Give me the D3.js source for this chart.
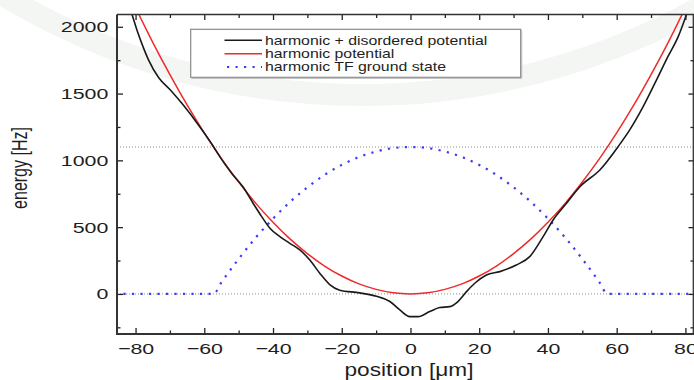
<!DOCTYPE html>
<html><head><meta charset="utf-8">
<script src="https://cdn.jsdelivr.net/npm/d3@7"></script>
<style>body{margin:0;background:#fff} svg{display:block}</style>
</head><body><svg id="c" width="694" height="380"></svg>
<script>
// ---- data ----
const xMajor = [-80, -60, -40, -20, 0, 20, 40, 60, 80];
const xMinor = [-70, -50, -30, -10, 10, 30, 50, 70];
const yMajor = [0, 500, 1000, 1500, 2000];
const yMinor = [-250, 250, 750, 1250, 1750];
const refLevels = [0, 1100];
const seriesNames = ["harmonic + disordered potential", "harmonic potential", "harmonic TF ground state"];

const disorderedX = [-81, -79.6, -78.2, -76.2, -73.3, -70, -66, -61.7, -57.3, -55.5, -52, -48.7, -45.8, -43.3, -40.9, -38, -35.1, -32.2, -29.3, -26.4, -23.5, -20.6, -14.8, -9.9, -6, -3.1, -0.2, 2.2, 5.6, 8.5, 11.4, 13.8, 16.3, 18.7, 22.1, 26, 30.8, 34.7, 38.6, 41.5, 45.4, 49.3, 55.1, 60.4, 63.8, 67.7, 71.6, 74.9, 77.9, 80.3, 81];
const disorderedY = [2090, 1976, 1876, 1751, 1620, 1530, 1410, 1265, 1102, 1028, 902, 800, 679, 579, 492, 429, 379, 329, 254, 155, 70, 28, 8, -18, -57, -120, -170, -170, -132, -102, -95, -57, 17, 80, 142, 167, 217, 279, 429, 554, 679, 803, 928, 1102, 1228, 1402, 1602, 1776, 1926, 2090, 2140];

const harmonicX = [-85, -80, -75, -70, -65, -60, -55, -50, -45, -40, -35, -30, -25, -20, -15, -10, -5, 0, 5, 10, 15, 20, 25, 30, 35, 40, 45, 50, 55, 60, 65, 70, 75, 80, 85];
const harmonicY = [2420, 2144, 1884, 1642, 1415, 1206, 1013, 838, 678, 536, 410, 302, 209, 134, 75, 34, 8, 0, 8, 34, 75, 134, 209, 302, 410, 536, 678, 838, 1013, 1206, 1415, 1642, 1884, 2144, 2420];

const tfX = [-86, -70, -60, -57.3, -55, -50, -45, -40, -35, -30, -25, -20, -15, -10, -5, 0, 5, 10, 15, 20, 25, 30, 35, 40, 45, 50, 55, 57.3, 60, 70, 86];
const tfY = [0, 0, 0, 0, 87, 262, 422, 564, 690, 798, 891, 966, 1025, 1066, 1092, 1100, 1092, 1066, 1025, 966, 891, 798, 690, 564, 422, 262, 87, 0, 0, 0, 0];

// ---- layout ----
const svg = d3.select("#c");
const L = 117, R = 694, T = 14.5, B = 334;
const x = d3.scaleLinear().domain([-85.4, 82.5]).range([L, R]);
const y = d3.scaleLinear().domain([-300, 2092]).range([B, T]);
const FONT = "'Liberation Sans', Arial, Helvetica, sans-serif";

// faint watermark ring
svg.append("circle").attr("cx", 362).attr("cy", -600).attr("r", 695)
  .attr("fill", "none").attr("stroke", "#f3f6f3").attr("stroke-width", 22);

svg.append("defs").append("clipPath").attr("id", "clip")
  .append("rect").attr("x", L).attr("y", T).attr("width", R - L).attr("height", B - T);

const plot = svg.append("g").attr("clip-path", "url(#clip)");

// reference dotted levels
plot.selectAll("line.ref").data(refLevels).join("line").attr("class", "ref")
  .attr("x1", L).attr("x2", R).attr("y1", d => y(d)).attr("y2", d => y(d))
  .attr("stroke", "#8f8f8f").attr("stroke-width", 1).attr("stroke-dasharray", "1,2");

const mk = (xs, ys) => xs.map((v, i) => [v, ys[i]]);
const line = d3.line().x(d => x(d[0])).y(d => y(d[1])).curve(d3.curveMonotoneX);

plot.append("path").datum(mk(tfX, tfY)).attr("d", line)
  .attr("fill", "none").attr("stroke", "#3c3cf5").attr("stroke-width", 2.2)
  .attr("stroke-dasharray", "2.2,6.3");
plot.append("path").datum(mk(harmonicX, harmonicY)).attr("d", line)
  .attr("fill", "none").attr("stroke", "#ee2a2a").attr("stroke-width", 1.5);
plot.append("path").datum(mk(disorderedX, disorderedY)).attr("d", line)
  .attr("fill", "none").attr("stroke", "#1a1a1a").attr("stroke-width", 1.6);

// ---- axes ----
function stretch(sel, sx) {
  sel.each(function () {
    const t = d3.select(this);
    const tx = +t.attr("x") || 0, ty = +t.attr("y") || 0;
    t.attr("x", 0).attr("y", 0).attr("transform", `translate(${tx},${ty}) scale(${sx},1)`);
  });
}
function styleAxis(g) {
  g.select(".domain").remove();
  g.selectAll(".tick line").attr("stroke", "#222").attr("stroke-width", 1.3);
  g.selectAll("text").attr("fill", "#1e1e1e").style("font-family", FONT).style("font-size", "15.5px");
}
// bottom
const gb = svg.append("g").attr("transform", `translate(0,${B})`);
gb.append("g").call(d3.axisBottom(x).tickValues(xMinor).tickSize(-3.5).tickFormat("")).call(styleAxis);
const gbm = gb.append("g").call(d3.axisBottom(x).tickValues(xMajor).tickSize(-6).tickPadding(9).tickFormat(d3.format("d")));
styleAxis(gbm); stretch(gbm.selectAll("text"), 1.38);
// top
const gt = svg.append("g").attr("transform", `translate(0,${T})`);
gt.append("g").call(d3.axisTop(x).tickValues(xMinor).tickSize(-3.5).tickFormat("")).call(styleAxis);
gt.append("g").call(d3.axisTop(x).tickValues(xMajor).tickSize(-5.5).tickFormat("")).call(styleAxis);
// left
const gl = svg.append("g").attr("transform", `translate(${L},0)`);
gl.append("g").call(d3.axisLeft(y).tickValues(yMinor).tickSize(-3.5).tickFormat("")).call(styleAxis);
const glm = gl.append("g").call(d3.axisLeft(y).tickValues(yMajor).tickSize(-6).tickPadding(8.7).tickFormat(d3.format("d")));
styleAxis(glm); stretch(glm.selectAll("text"), 1.38);
// right
const gr = svg.append("g").attr("transform", `translate(${R},0)`);
gr.append("g").call(d3.axisRight(y).tickValues(yMinor).tickSize(-3.5).tickFormat("")).call(styleAxis);
gr.append("g").call(d3.axisRight(y).tickValues(yMajor).tickSize(-5.5).tickFormat("")).call(styleAxis);

// frame
svg.append("line").attr("x1", L).attr("x2", R).attr("y1", T).attr("y2", T).attr("stroke", "#333").attr("stroke-width", 1.3);
svg.append("line").attr("x1", R - 0.7).attr("x2", R - 0.7).attr("y1", T).attr("y2", B).attr("stroke", "#333").attr("stroke-width", 1.3);
svg.append("line").attr("x1", L).attr("x2", L).attr("y1", T).attr("y2", B + 1).attr("stroke", "#333").attr("stroke-width", 2);
svg.append("line").attr("x1", L - 1).attr("x2", R).attr("y1", B).attr("y2", B).attr("stroke", "#333").attr("stroke-width", 2);

// axis titles
svg.append("text").text("position [μm]")
  .attr("transform", `translate(409,376) scale(1.26,1)`)
  .attr("text-anchor", "middle").attr("fill", "#1e1e1e")
  .style("font-family", FONT).style("font-size", "18px");
svg.append("text").text("energy [Hz]")
  .attr("transform", `translate(27,168) scale(1.35,1) rotate(-90)`)
  .attr("text-anchor", "middle").attr("fill", "#1e1e1e")
  .style("font-family", FONT).style("font-size", "16px");

// legend
const lg = svg.append("g");
lg.append("rect").attr("x", 190.7).attr("y", 29.3).attr("width", 330).attr("height", 48)
  .attr("fill", "#fff").attr("stroke", "#8a8a8a").attr("stroke-width", 1.2);
lg.append("path").attr("d", "M191.5,78.3H521.7V30.3").attr("fill", "none").attr("stroke", "#b5b5b5").attr("stroke-width", 1);
const legStyles = [
  {c: "#1a1a1a", w: 1.6, dash: null},
  {c: "#ee2a2a", w: 1.5, dash: null},
  {c: "#3c3cf5", w: 2.2, dash: "2.2,6.3"}
];
const rowY = [40.3, 53.8, 67];
seriesNames.forEach((n, i) => {
  const s = legStyles[i];
  lg.append("line").attr("x1", i === 2 ? 227 : 224.5).attr("x2", 262).attr("y1", rowY[i]).attr("y2", rowY[i])
    .attr("stroke", s.c).attr("stroke-width", s.w).attr("stroke-dasharray", s.dash);
  lg.append("text").text(n).attr("transform", `translate(265,${rowY[i] + 4.4}) scale(1.3,1)`)
    .attr("fill", "#1e1e1e").style("font-family", FONT).style("font-size", "12.2px");
});
</script></body></html>
